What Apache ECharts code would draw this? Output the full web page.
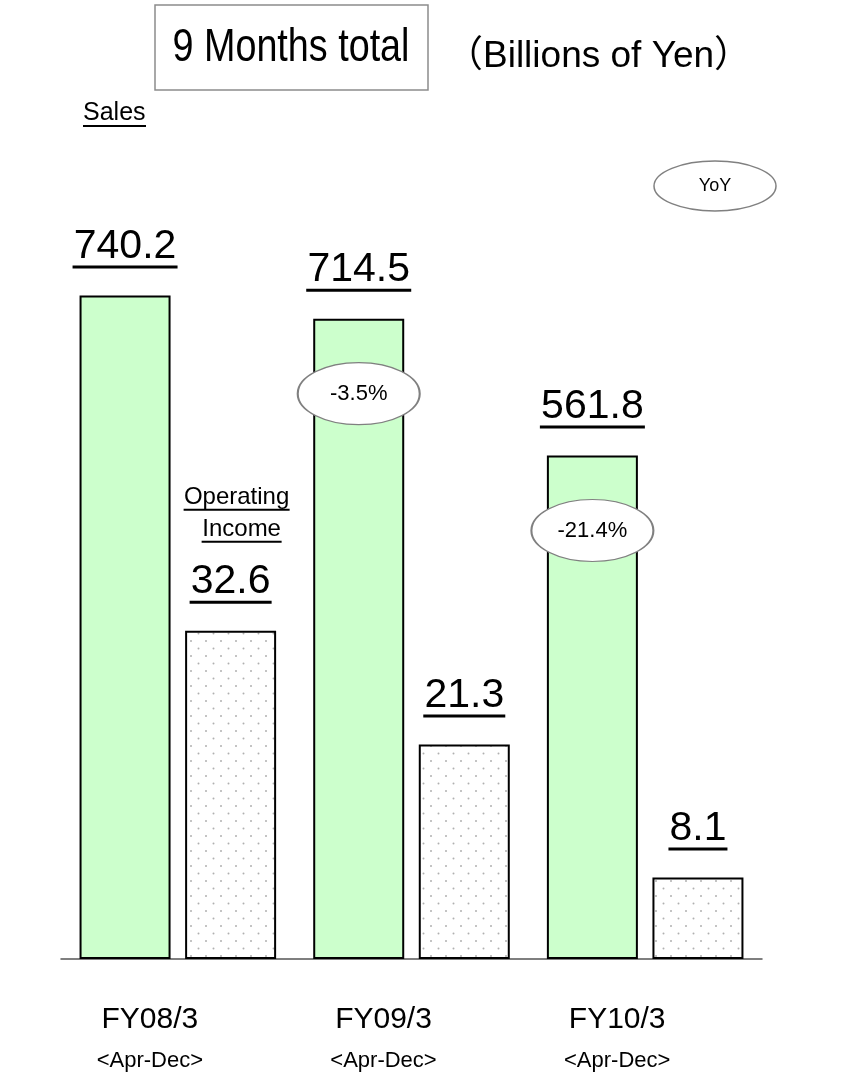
<!DOCTYPE html>
<html>
<head>
<meta charset="utf-8">
<script src="https://cdn.jsdelivr.net/npm/echarts@6/dist/echarts.min.js"></script>
<style>
  html, body { margin: 0; padding: 0; background: #ffffff; }
  #chart { width: 851px; height: 1082px; }
</style>
</head>
<body>
<div id="chart"></div>
<script>
// Nine-month (Apr-Dec) results, billions of yen
const categories = ['FY08/3', 'FY09/3', 'FY10/3'];
const periods = ['<Apr-Dec>', '<Apr-Dec>', '<Apr-Dec>'];
const salesValues = [740.2, 714.5, 561.8];
const incomeValues = [32.6, 21.3, 8.1];
const salesYoY = [null, -3.5, -21.4];
const incomeCaption = ['Operating', 'Income'];

const SANS = "'Liberation Sans', Arial, Helvetica, sans-serif";
const VALUE_SIZE = 41;
const CAPTION_SIZE = 24;

const measureCtx = document.createElement('canvas').getContext('2d');
function textWidth(str, size, family) {
  measureCtx.font = size + 'px ' + family;
  return Math.round(measureCtx.measureText(str).width);
}

// underlined value label, optionally preceded by underlined caption lines
function valueLabel(value, caption) {
  const txt = value.toFixed(1);
  const rich = {
    v: { fontSize: VALUE_SIZE, fontFamily: SANS, color: '#000', lineHeight: 38 },
    u: { width: textWidth(txt, VALUE_SIZE, SANS) + 2, height: 3, lineHeight: 3, fontSize: 1, backgroundColor: '#000' },
    s: { height: 8, lineHeight: 8, fontSize: 1 },
    gap: { height: 20, lineHeight: 20, fontSize: 1 }
  };
  let fmt = '{v|' + txt + '}\n{u| }';
  if (caption) {
    const shift = [12, 22];
    const parts = [];
    caption.forEach((line, k) => {
      rich['p' + k] = { width: shift[k], height: 2, fontSize: 1 };
      rich['t' + k] = { fontSize: CAPTION_SIZE, fontFamily: SANS, color: '#000', lineHeight: 22 };
      rich['l' + k] = { width: textWidth(line, CAPTION_SIZE, SANS) + 1, height: 2, lineHeight: 2, fontSize: 1, backgroundColor: '#000' };
      parts.push('{p' + k + '| }{t' + k + '|' + line + '}\n{p' + k + '| }{l' + k + '| }');
    });
    fmt = parts.join('\n{s| }\n') + '\n{gap| }\n' + fmt;
  }
  return { show: true, position: 'top', distance: 27, formatter: fmt, rich: rich };
}

// dotted fill for operating income bars
const tile = document.createElement('canvas');
tile.width = 15; tile.height = 15;
const tctx = tile.getContext('2d');
tctx.fillStyle = '#ffffff';
tctx.fillRect(0, 0, 15, 15);
tctx.fillStyle = '#b0b0b0';
[[3.5, 3.5], [11, 11]].forEach(([x, y]) => {
  tctx.beginPath();
  tctx.arc(x, y, 1, 0, Math.PI * 2);
  tctx.fill();
});

const ELLIPSE = 'path://M0,50C0,22.4,44.8,0,100,0C155.2,0,200,22.4,200,50C200,77.6,155.2,100,100,100C44.8,100,0,77.6,0,50Z';

const chart = echarts.init(document.getElementById('chart'), null, { renderer: 'canvas' });

chart.setOption({
  animation: false,
  backgroundColor: '#ffffff',
  grid: { left: 61, right: 89, top: 242, bottom: 123, containLabel: false },
  xAxis: {
    type: 'category',
    data: categories,
    axisLine: { show: true, lineStyle: { color: '#555555', width: 1.5 } },
    axisTick: { show: false },
    axisLabel: {
      margin: 42,
      padding: [0, 56, 0, 0],
      formatter: (v, i) => '{a|' + v + '}\n{b|' + periods[i] + '}',
      rich: {
        a: { fontSize: 30, fontFamily: SANS, color: '#000', lineHeight: 38 },
        b: { fontSize: 22, fontFamily: SANS, color: '#000', lineHeight: 44 }
      }
    }
  },
  yAxis: [
    { type: 'value', min: 0, max: 800, show: false, splitLine: { show: false } },
    { type: 'value', min: 0, max: 71.2, show: false, splitLine: { show: false } }
  ],
  series: [
    {
      name: 'Sales',
      type: 'bar',
      yAxisIndex: 0,
      barWidth: 91,
      barGap: '16%',
      itemStyle: { color: '#ccffcc', borderColor: '#000000', borderWidth: 2 },
      data: salesValues.map(v => ({ value: v, label: valueLabel(v) })),
      markPoint: {
        symbol: ELLIPSE,
        symbolSize: [122, 62],
        symbolOffset: [0, 75],
        itemStyle: { color: '#ffffff', borderColor: '#808080', borderWidth: 1.5 },
        label: { show: true, position: 'inside', color: '#000', fontSize: 22, fontFamily: SANS, formatter: '{b}' },
        data: salesYoY
          .map((y, i) => y == null ? null : { name: y.toFixed(1) + '%', coord: [categories[i], salesValues[i]] })
          .filter(Boolean)
      }
    },
    {
      name: 'Operating Income',
      type: 'bar',
      yAxisIndex: 1,
      barWidth: 91,
      barGap: '16%',
      itemStyle: { color: { image: tile, repeat: 'repeat' }, borderColor: '#000000', borderWidth: 2 },
      data: incomeValues.map((v, i) => ({ value: v, label: valueLabel(v, i === 0 ? incomeCaption : null) }))
    }
  ],
  graphic: [
    { type: 'rect', shape: { x: 155, y: 5, width: 273, height: 85 }, style: { fill: '#ffffff', stroke: '#8c8c8c', lineWidth: 1.5 } },
    { type: 'text', x: 291, y: 48, scaleX: 0.82, style: { text: '9 Months total', fontSize: 46, fontFamily: SANS, fill: '#000', align: 'center', verticalAlign: 'middle' } },
    { type: 'text', x: 446, y: 57, style: { text: '（Billions of Yen）', fontSize: 37, fontFamily: "'Liberation Sans', 'Noto Sans CJK JP', sans-serif", fill: '#000', align: 'left', verticalAlign: 'middle' } },
    { type: 'text', x: 83, y: 113, style: { text: 'Sales', fontSize: 25, fontFamily: SANS, fill: '#000', align: 'left', verticalAlign: 'middle' } },
    { type: 'rect', shape: { x: 83, y: 125, width: textWidth('Sales', 25, SANS), height: 2 }, style: { fill: '#000' } },
    { type: 'ellipse', shape: { cx: 715, cy: 186, rx: 61, ry: 25 }, style: { fill: '#ffffff', stroke: '#808080', lineWidth: 1.5 } },
    { type: 'text', x: 715, y: 186, style: { text: 'YoY', fontSize: 18, fontFamily: SANS, fill: '#000', align: 'center', verticalAlign: 'middle' } }
  ]
});
</script>
</body>
</html>
